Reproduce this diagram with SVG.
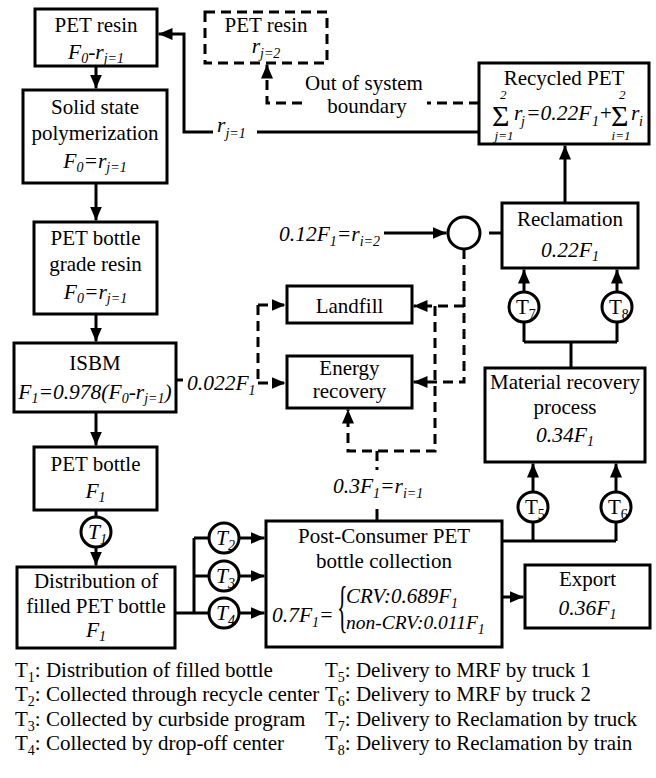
<svg xmlns="http://www.w3.org/2000/svg" width="656" height="778" viewBox="0 0 656 778">
<defs>
<marker id="ah" viewBox="0 0 14 12" refX="14" refY="6" markerWidth="14" markerHeight="12" markerUnits="userSpaceOnUse" orient="auto">
<path d="M0,0 L14,6 L0,12 z" fill="#000"/>
</marker>
</defs>
<style>
.nbox{fill:#fff;stroke:#000;stroke-width:3}
.dbox{fill:#fff;stroke:#000;stroke-width:3;stroke-dasharray:10 6}
.ln{fill:none;stroke:#000;stroke-width:3}
.ar{fill:none;stroke:#000;stroke-width:3;marker-end:url(#ah)}
.dl{fill:none;stroke:#000;stroke-width:3;stroke-dasharray:10 6}
.da{fill:none;stroke:#000;stroke-width:3;stroke-dasharray:10 6;marker-end:url(#ah)}
.circ{fill:#fff;stroke:#000;stroke-width:3}
</style>
<rect width="656" height="778" fill="#fff"/>

<g id="connectors">
  <path class="ar" d="M96,66 L96,88.5"/>
  <path class="ar" d="M96,183 L96,220.5"/>
  <path class="ar" d="M96,314 L96,341.5"/>
  <path class="ar" d="M96,412 L96,445.5"/>
  <path class="ln" d="M96,510 L96,517"/>
  <path class="ar" d="M96,547 L96,565.5"/>
  <path class="ln" d="M175,613 L194,613 M194,538 L194,613 M194,538 L209,538 M194,576 L209,576 M194,613 L209,613"/>
  <path class="ar" d="M239,538 L264.5,538"/>
  <path class="ar" d="M239,576 L264.5,576"/>
  <path class="ar" d="M239,613 L264.5,613"/>
  <path class="ln" d="M502,541 L616,541 M533,541 L533,522 M616,541 L616,522"/>
  <path class="ar" d="M533,492 L533,463.5"/>
  <path class="ar" d="M616,492 L616,463.5"/>
  <path class="ar" d="M502,597 L523.5,597"/>
  <path class="ln" d="M571,368 L571,342 M524,342 L617,342 M524,342 L524,322 M617,342 L617,322"/>
  <path class="ar" d="M524,292 L524,269.5"/>
  <path class="ar" d="M617,292 L617,269.5"/>
  <path class="ar" d="M565,203 L565,145.5"/>
  <path class="ln" d="M489,233 L502,233"/>
  <path class="ar" d="M384,233 L446.5,233"/>
  <path class="ln" d="M479,132 L257,132"/>
  <path class="ar" d="M213,132 L184,132 L184,34 L158.5,34"/>
  <path class="dl" d="M479,103 L427,103"/>
  <path class="da" d="M302,103 L267,103 L267,64.5"/>
  <path class="ln" d="M176,380 L183,380"/>
  <path class="dl" d="M258,305 L258,383"/>
  <path class="da" d="M258,305 L285.5,305"/>
  <path class="da" d="M258,383 L285.5,383"/>
  <path class="da" d="M464,249 L464,382 L413.5,382"/>
  <path class="da" d="M464,306 L413.5,306"/>
  <path class="da" d="M435,306 L435,451 L348,451 L348,409.5"/>
  <path class="dl" d="M377,451 L377,470"/>
  <path class="ln" d="M377,509 L377,521"/>
</g>

<g id="labels">
  <text font-family="Liberation Serif" font-size="21.5" font-style="italic" x="217" y="132">r<tspan font-size="14" dy="6">j=1</tspan></text>
  <text font-family="Liberation Serif" font-size="21" text-anchor="middle" x="364" y="90">Out of system</text>
  <text font-family="Liberation Serif" font-size="21" text-anchor="middle" x="367" y="113">boundary</text>
  <text font-family="Liberation Serif" font-size="21.5" font-style="italic" x="279" y="241">0.12F<tspan font-size="14" dy="5">1</tspan><tspan dy="-5">=r</tspan><tspan font-size="14" dy="5">i=2</tspan></text>
  <text font-family="Liberation Serif" font-size="21.5" font-style="italic" x="187" y="390">0.022F<tspan font-size="14" dy="5">1</tspan></text>
  <text font-family="Liberation Serif" font-size="21.5" font-style="italic" x="333" y="493">0.3F<tspan font-size="14" dy="5">1</tspan><tspan dy="-5">=r</tspan><tspan font-size="14" dy="5">i=1</tspan></text>
</g>

<g id="pet-resin">
  <rect class="nbox" x="35" y="9" width="122" height="57"/>
  <text font-family="Liberation Serif" font-size="21" text-anchor="middle" x="96" y="32">PET resin</text>
  <text font-family="Liberation Serif" font-size="21.5" font-style="italic" text-anchor="middle" x="96" y="59">F<tspan font-size="14" dy="4">0</tspan><tspan dy="-4">-r</tspan><tspan font-size="14" dy="4">j=1</tspan></text>
</g>

<g id="pet-resin-out">
  <rect class="dbox" x="205" y="12" width="122" height="51"/>
  <text font-family="Liberation Serif" font-size="21" text-anchor="middle" x="266" y="32">PET resin</text>
  <text font-family="Liberation Serif" font-size="21.5" font-style="italic" text-anchor="middle" x="266" y="53">r<tspan font-size="14" dy="5">j=2</tspan></text>
</g>

<g id="ssp">
  <rect class="nbox" x="23" y="90" width="144" height="93"/>
  <text font-family="Liberation Serif" font-size="21" text-anchor="middle" x="95" y="114">Solid state</text>
  <text font-family="Liberation Serif" font-size="21" text-anchor="middle" x="95" y="140">polymerization</text>
  <text font-family="Liberation Serif" font-size="21.5" font-style="italic" text-anchor="middle" x="95" y="168">F<tspan font-size="14" dy="4">0</tspan><tspan dy="-4">=r</tspan><tspan font-size="14" dy="4">j=1</tspan></text>
</g>

<g id="grade-resin">
  <rect class="nbox" x="34" y="222" width="123" height="92"/>
  <text font-family="Liberation Serif" font-size="21" text-anchor="middle" x="95.5" y="245">PET bottle</text>
  <text font-family="Liberation Serif" font-size="21" text-anchor="middle" x="95.5" y="271">grade resin</text>
  <text font-family="Liberation Serif" font-size="21.5" font-style="italic" text-anchor="middle" x="95.5" y="299">F<tspan font-size="14" dy="4">0</tspan><tspan dy="-4">=r</tspan><tspan font-size="14" dy="4">j=1</tspan></text>
</g>

<g id="isbm">
  <rect class="nbox" x="14" y="343" width="162" height="69"/>
  <text font-family="Liberation Serif" font-size="21" text-anchor="middle" x="95" y="370">ISBM</text>
  <text font-family="Liberation Serif" font-size="21.5" font-style="italic" text-anchor="middle" x="95" y="399">F<tspan font-size="14" dy="4">1</tspan><tspan dy="-4">=0.978(F</tspan><tspan font-size="14" dy="4">0</tspan><tspan dy="-4">-r</tspan><tspan font-size="14" dy="4">j=1</tspan><tspan dy="-4">)</tspan></text>
</g>

<g id="pet-bottle">
  <rect class="nbox" x="34" y="447" width="123" height="63"/>
  <text font-family="Liberation Serif" font-size="21" text-anchor="middle" x="95.5" y="471">PET bottle</text>
  <text font-family="Liberation Serif" font-size="21.5" font-style="italic" text-anchor="middle" x="95.5" y="498">F<tspan font-size="14" dy="4">1</tspan></text>
</g>

<g id="t1">
  <circle class="circ" cx="96" cy="532" r="15"/>
  <text font-family="Liberation Serif" font-size="21.5" font-style="italic" x="88" y="539">T<tspan font-size="14" dy="5">1</tspan></text>
</g>

<g id="distribution">
  <rect class="nbox" x="17" y="567" width="158" height="81"/>
  <text font-family="Liberation Serif" font-size="21" text-anchor="middle" x="96" y="588">Distribution of</text>
  <text font-family="Liberation Serif" font-size="21" text-anchor="middle" x="96" y="613">filled PET bottle</text>
  <text font-family="Liberation Serif" font-size="21.5" font-style="italic" text-anchor="middle" x="96" y="637">F<tspan font-size="14" dy="4">1</tspan></text>
</g>

<g id="t2">
  <circle class="circ" cx="224" cy="538" r="15"/>
  <text font-family="Liberation Serif" font-size="21.5" font-style="italic" x="216" y="545">T<tspan font-size="14" dy="5">2</tspan></text>
</g>
<g id="t3">
  <circle class="circ" cx="224" cy="576" r="15"/>
  <text font-family="Liberation Serif" font-size="21.5" font-style="italic" x="216" y="583">T<tspan font-size="14" dy="5">3</tspan></text>
</g>
<g id="t4">
  <circle class="circ" cx="224" cy="613" r="15"/>
  <text font-family="Liberation Serif" font-size="21.5" font-style="italic" x="216" y="620">T<tspan font-size="14" dy="5">4</tspan></text>
</g>

<g id="collection">
  <rect class="nbox" x="266" y="521" width="236" height="126"/>
  <text font-family="Liberation Serif" font-size="21" text-anchor="middle" x="384" y="543">Post-Consumer PET</text>
  <text font-family="Liberation Serif" font-size="21" text-anchor="middle" x="384" y="568">bottle collection</text>
  <text font-family="Liberation Serif" font-size="21.5" font-style="italic" x="272" y="622">0.7F<tspan font-size="14" dy="5">1</tspan><tspan dy="-5">=</tspan></text>
  <text font-family="Liberation Serif" font-size="22" transform="translate(337,626) scale(1,2.6)">{</text>
  <text font-family="Liberation Serif" font-size="21" font-style="italic" x="346" y="603">CRV:0.689F<tspan font-size="14" dy="5">1</tspan></text>
  <text font-family="Liberation Serif" font-size="19.5" font-style="italic" x="346" y="629">non-CRV:0.011F<tspan font-size="14" dy="5">1</tspan></text>
</g>

<g id="export">
  <rect class="nbox" x="525" y="565" width="125" height="63"/>
  <text font-family="Liberation Serif" font-size="21" text-anchor="middle" x="587.5" y="586">Export</text>
  <text font-family="Liberation Serif" font-size="21.5" font-style="italic" text-anchor="middle" x="587.5" y="615">0.36F<tspan font-size="14" dy="4">1</tspan></text>
</g>

<g id="t5">
  <circle class="circ" cx="533" cy="507" r="15"/>
  <text font-family="Liberation Serif" font-size="21" x="525" y="514">T<tspan font-size="14" dy="5">5</tspan></text>
</g>
<g id="t6">
  <circle class="circ" cx="616" cy="507" r="15"/>
  <text font-family="Liberation Serif" font-size="21" x="608" y="514">T<tspan font-size="14" dy="5">6</tspan></text>
</g>

<g id="mrf">
  <rect class="nbox" x="485" y="368" width="160" height="94"/>
  <text font-family="Liberation Serif" font-size="21" text-anchor="middle" x="565" y="389">Material recovery</text>
  <text font-family="Liberation Serif" font-size="21" text-anchor="middle" x="565" y="414">process</text>
  <text font-family="Liberation Serif" font-size="21.5" font-style="italic" text-anchor="middle" x="565" y="442">0.34F<tspan font-size="14" dy="4">1</tspan></text>
</g>

<g id="t7">
  <circle class="circ" cx="524" cy="307" r="15"/>
  <text font-family="Liberation Serif" font-size="21" x="516" y="314">T<tspan font-size="14" dy="5">7</tspan></text>
</g>
<g id="t8">
  <circle class="circ" cx="617" cy="307" r="15"/>
  <text font-family="Liberation Serif" font-size="21" x="609" y="314">T<tspan font-size="14" dy="5">8</tspan></text>
</g>

<g id="reclamation">
  <rect class="nbox" x="502" y="203" width="136" height="65"/>
  <text font-family="Liberation Serif" font-size="21" text-anchor="middle" x="570" y="226">Reclamation</text>
  <text font-family="Liberation Serif" font-size="21.5" font-style="italic" text-anchor="middle" x="570" y="257">0.22F<tspan font-size="14" dy="4">1</tspan></text>
</g>

<g id="junction">
  <circle class="circ" cx="464" cy="233" r="16"/>
</g>

<g id="recycled-pet">
  <rect class="nbox" x="479" y="63" width="170" height="81"/>
  <text font-family="Liberation Serif" font-size="21" text-anchor="middle" x="564" y="85">Recycled PET</text>
  <text font-family="Liberation Serif" font-size="30" x="492" y="126">Σ</text>
  <text font-family="Liberation Serif" font-size="13" font-style="italic" x="500" y="99">2</text>
  <text font-family="Liberation Serif" font-size="13" font-style="italic" text-anchor="middle" x="504" y="140">j=1</text>
  <text font-family="Liberation Serif" font-size="21.5" font-style="italic" x="514" y="120">r</text>
  <text font-family="Liberation Serif" font-size="14" font-style="italic" x="521" y="126">j</text>
  <text font-family="Liberation Serif" font-size="21.5" font-style="italic" x="526" y="120">=0.22F</text>
  <text font-family="Liberation Serif" font-size="14" font-style="italic" x="592" y="126">1</text>
  <text font-family="Liberation Serif" font-size="21" x="600" y="120">+</text>
  <text font-family="Liberation Serif" font-size="30" x="611" y="126">Σ</text>
  <text font-family="Liberation Serif" font-size="13" font-style="italic" x="619" y="99">2</text>
  <text font-family="Liberation Serif" font-size="13" font-style="italic" text-anchor="middle" x="621" y="140">i=1</text>
  <text font-family="Liberation Serif" font-size="21.5" font-style="italic" x="631" y="120">r</text>
  <text font-family="Liberation Serif" font-size="14" font-style="italic" x="639" y="126">i</text>
</g>

<g id="landfill">
  <rect class="nbox" x="287" y="286" width="125" height="37"/>
  <text font-family="Liberation Serif" font-size="21" text-anchor="middle" x="349.5" y="313">Landfill</text>
</g>

<g id="energy-recovery">
  <rect class="nbox" x="287" y="356" width="125" height="52"/>
  <text font-family="Liberation Serif" font-size="21" text-anchor="middle" x="349.5" y="375">Energy</text>
  <text font-family="Liberation Serif" font-size="21" text-anchor="middle" x="349.5" y="398">recovery</text>
</g>

<g id="legend">
  <text font-family="Liberation Serif" font-size="21" x="15" y="677">T<tspan font-size="14" dy="5">1</tspan><tspan dy="-5">: Distribution of filled bottle</tspan></text>
  <text font-family="Liberation Serif" font-size="21" x="15" y="701">T<tspan font-size="14" dy="5">2</tspan><tspan dy="-5">: Collected through recycle center</tspan></text>
  <text font-family="Liberation Serif" font-size="21" x="15" y="726">T<tspan font-size="14" dy="5">3</tspan><tspan dy="-5">: Collected by curbside program</tspan></text>
  <text font-family="Liberation Serif" font-size="21" x="15" y="750">T<tspan font-size="14" dy="5">4</tspan><tspan dy="-5">: Collected by drop-off center</tspan></text>
  <text font-family="Liberation Serif" font-size="21" x="325" y="677">T<tspan font-size="14" dy="5">5</tspan><tspan dy="-5">: Delivery to MRF by truck 1</tspan></text>
  <text font-family="Liberation Serif" font-size="21" x="325" y="701">T<tspan font-size="14" dy="5">6</tspan><tspan dy="-5">: Delivery to MRF by truck 2</tspan></text>
  <text font-family="Liberation Serif" font-size="21" x="325" y="726">T<tspan font-size="14" dy="5">7</tspan><tspan dy="-5">: Delivery to Reclamation by truck</tspan></text>
  <text font-family="Liberation Serif" font-size="21" x="325" y="750">T<tspan font-size="14" dy="5">8</tspan><tspan dy="-5">: Delivery to Reclamation by train</tspan></text>
</g>
</svg>
